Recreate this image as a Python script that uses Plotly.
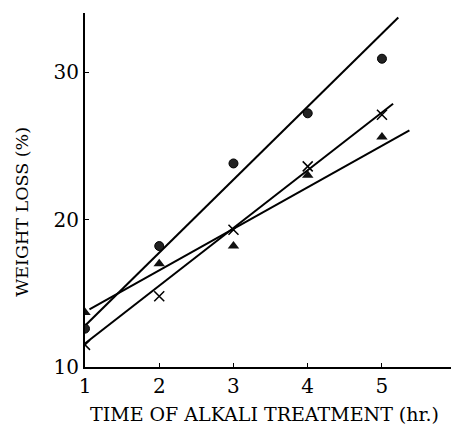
import plotly.graph_objects as go

time_hr = [1, 2, 3, 4, 5]
circle_vals = [12.6, 18.2, 23.8, 27.2, 30.9]
cross_vals = [11.5, 14.8, 19.3, 23.6, 27.1]
triangle_vals = [13.7, 17.0, 18.2, 23.0, 25.6]

# fitted straight lines (start/end points)
circle_fit_x = [1.0, 5.22]
circle_fit_y = [12.8, 33.7]
cross_fit_x = [1.0, 5.15]
cross_fit_y = [11.6, 27.85]
triangle_fit_x = [1.06, 5.37]
triangle_fit_y = [13.9, 26.05]

y_ticks = [10, 20, 30]
x_ticks = [1, 2, 3, 4, 5]

FONT = "DejaVu Serif"

fig = go.Figure()
for fx, fy in [(circle_fit_x, circle_fit_y), (cross_fit_x, cross_fit_y), (triangle_fit_x, triangle_fit_y)]:
    fig.add_trace(go.Scatter(x=fx, y=fy, mode="lines",
                             line=dict(color="black", width=2), showlegend=False, hoverinfo="skip"))

fig.add_trace(go.Scatter(x=time_hr, y=circle_vals, mode="markers",
                         marker=dict(symbol="circle", size=9, color="#222",
                                     line=dict(color="black", width=1)), showlegend=False))
fig.add_trace(go.Scatter(x=time_hr, y=cross_vals, mode="markers",
                         marker=dict(symbol="x-thin", size=10,
                                     line=dict(color="black", width=1.5)), showlegend=False))
fig.add_trace(go.Scatter(x=time_hr, y=triangle_vals, mode="markers",
                         marker=dict(symbol="triangle-up", size=10, color="#111"), showlegend=False))

fig.update_layout(
    width=451, height=428,
    margin=dict(l=85, r=0, t=13, b=61),
    paper_bgcolor="white", plot_bgcolor="white",
    font=dict(family=FONT, color="black"),
    xaxis=dict(range=[1, 5.93], tickvals=x_ticks, ticktext=[str(v) for v in x_ticks],
               ticks="inside", ticklen=4, tickcolor="black", showgrid=False, zeroline=False,
               showline=True, linecolor="black", linewidth=2,
               tickfont=dict(size=20, family=FONT)),
    yaxis=dict(range=[10, 34], tickvals=y_ticks, ticktext=[str(v) for v in y_ticks],
               ticks="inside", ticklen=4, tickcolor="black", showgrid=False, zeroline=False,
               showline=True, linecolor="black", linewidth=2,
               tickfont=dict(size=20, family=FONT)),
    annotations=[
        dict(text="TIME OF ALKALI TREATMENT (hr.)", xref="paper", yref="paper",
             x=0.49, y=-0.134, xanchor="center", yanchor="middle", showarrow=False,
             font=dict(size=19, family=FONT)),
        dict(text="WEIGHT LOSS (%)", xref="paper", yref="paper",
             x=-0.172, y=0.439, xanchor="center", yanchor="middle", showarrow=False,
             textangle=-90, font=dict(size=17.5, family=FONT)),
    ],
)

fig.write_html("out.html")
